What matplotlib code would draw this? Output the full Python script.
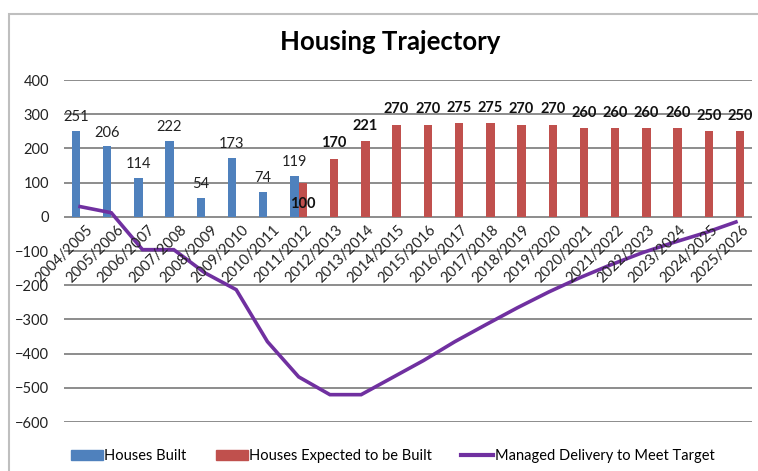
import numpy as np
import matplotlib.pyplot as plt
from matplotlib.patches import Rectangle
from matplotlib.lines import Line2D

plt.rcParams["font.family"] = ["Lato", "DejaVu Sans"]

years = [
    "2004/2005", "2005/2006", "2006/2007", "2007/2008", "2008/2009", "2009/2010",
    "2010/2011", "2011/2012", "2012/2013", "2013/2014", "2014/2015", "2015/2016",
    "2016/2017", "2017/2018", "2018/2019", "2019/2020", "2020/2021", "2021/2022",
    "2022/2023", "2023/2024", "2024/2025", "2025/2026",
]
built = [251, 206, 114, 222, 54, 173, 74, 119]
expected = [100, 170, 221, 270, 270, 275, 275, 270, 270, 260, 260, 260, 260, 250, 250]
managed = [30, 12, -96, -96, -164, -213, -365, -468, -520, -520, -470, -420,
           -365, -315, -266, -220, -178, -140, -105, -75, -47, -15]

BLUE = "#4F81BD"
RED = "#C0504D"
PURPLE = "#7030A0"

fig = plt.figure(figsize=(7.58, 4.71), dpi=100)
ax = fig.add_axes([0.085, 0.104, 0.9065, 0.726])

x = np.arange(len(years))
w = 0.27
x_built = x[:len(built)]
x_exp = x[len(years) - len(expected):]

ax.bar(x_built - w / 2, built, width=w, color=BLUE, zorder=3)
ax.bar(x_exp + w / 2, expected, width=w, color=RED, zorder=3)
ax.plot(x, managed, color=PURPLE, lw=2.6, zorder=4, solid_joinstyle="miter")

# data labels
for xi, v in zip(x_built, built):
    ax.annotate(str(v), (xi - w / 2, v), xytext=(0, 10), textcoords="offset points",
                ha="center", va="center", fontsize=10.5, color="#222222", zorder=5)
for xi, v in zip(x_exp, expected):
    if v == 100:
        # excel put this one near the base of the bar
        ax.annotate(str(v), (xi + w / 2, 0), xytext=(0, 9), textcoords="offset points",
                    ha="center", va="center", fontsize=10.5, fontweight="bold",
                    color="#111111", zorder=5)
    else:
        ax.annotate(str(v), (xi + w / 2, v), xytext=(0, 11), textcoords="offset points",
                    ha="center", va="center", fontsize=10.5, fontweight="bold",
                    color="#111111", zorder=5)

# category labels next to the zero line
for xi, lab in zip(x, years):
    ax.annotate(lab, (xi, 0), xytext=(4, -4), textcoords="offset points",
                ha="right", va="top", rotation=45, rotation_mode="anchor",
                fontsize=10.5, color="#222222", zorder=5)

ax.set_xlim(-0.5, len(years) - 0.5)
ax.set_ylim(-600, 400)
ax.set_yticks(np.arange(-600, 401, 100))
ax.set_xticks([])
ax.yaxis.grid(True, color="#8c8c8c", lw=1.4, zorder=0)
ax.tick_params(axis="y", length=0, pad=11, labelsize=10.5, labelcolor="#222222")
for s in ax.spines.values():
    s.set_visible(False)

fig.text(0.515, 0.91, "Housing Trajectory", ha="center", va="center",
         fontsize=18.5, fontweight="bold")

# frame
fig.add_artist(Rectangle((9 / 758, -0.05), 1.2, 1 - 14 / 471 + 0.05,
                         transform=fig.transFigure, fill=False,
                         edgecolor="#bfbfbf", lw=1.5))

handles = [
    Rectangle((0, 0), 1, 1, color=BLUE),
    Rectangle((0, 0), 1, 1, color=RED),
    Line2D([0], [0], color=PURPLE, lw=3),
]
fig.legend(handles, ["Houses Built", "Houses Expected to be Built",
                     "Managed Delivery to Meet Target"],
           loc="center", bbox_to_anchor=(0.518, 0.032), ncol=3, frameon=False,
           fontsize=10.5, handlelength=2.2, handletextpad=0.1, columnspacing=2.0)

fig.savefig("out.png", dpi=100)
